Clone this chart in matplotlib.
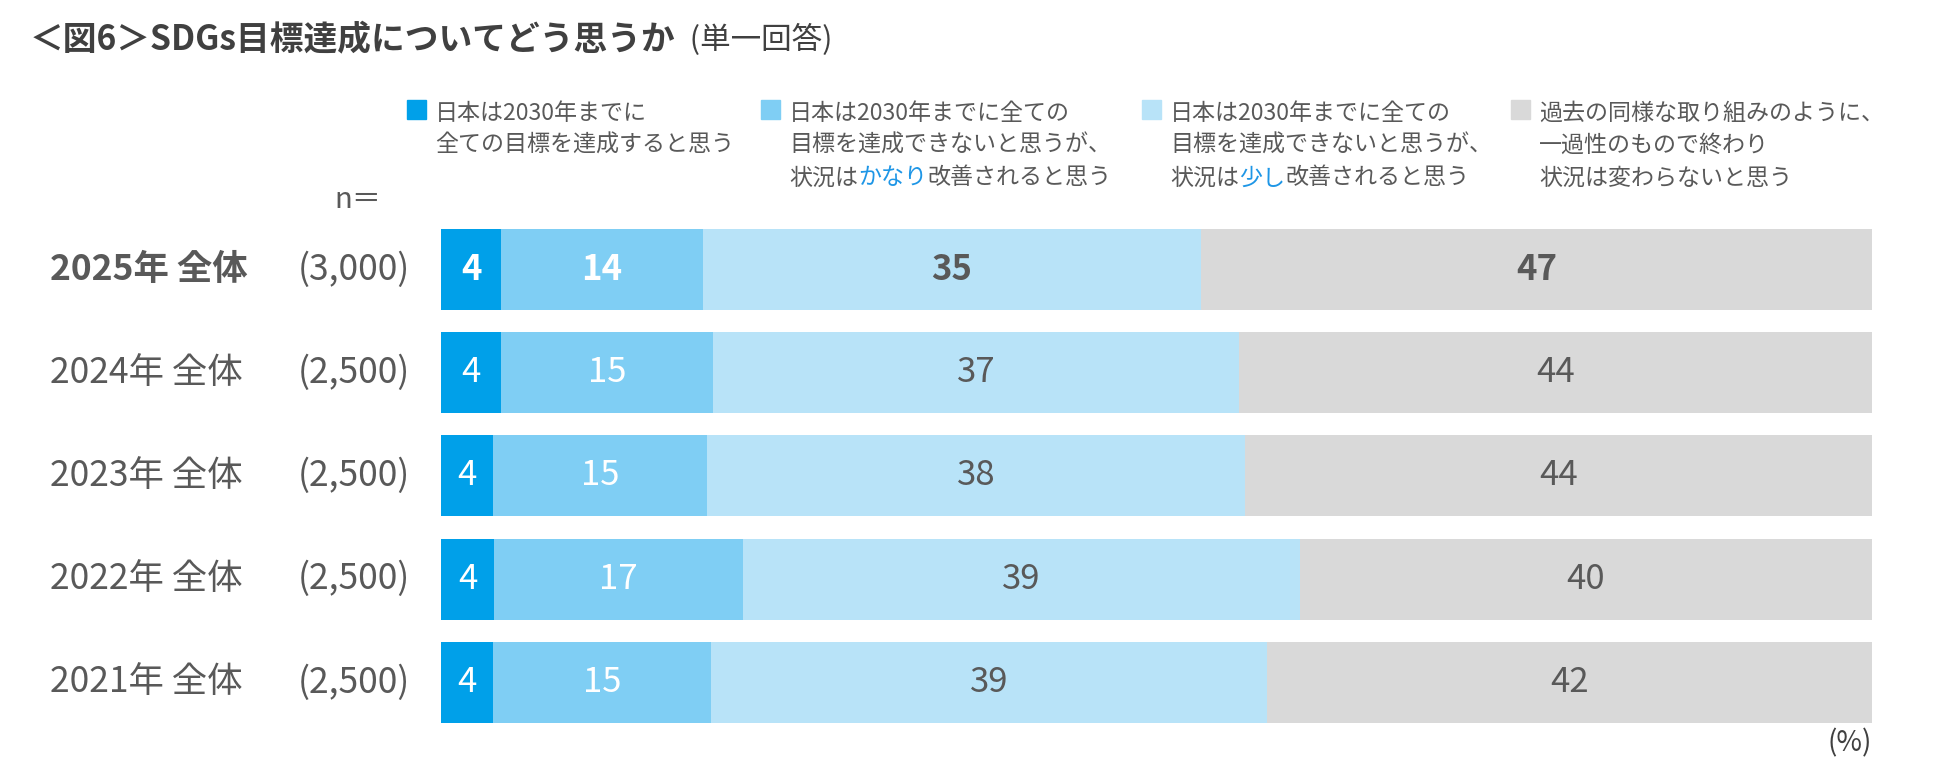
import matplotlib
matplotlib.use("Agg")
import matplotlib.pyplot as plt
import numpy as np

plt.rcParams['font.family'] = ['Noto Sans CJK JP', 'DejaVu Sans']

# data (top row first)
rows = ['2025年 全体', '2024年 全体', '2023年 全体', '2022年 全体', '2021年 全体']
n_labels = ['(3,000)', '(2,500)', '(2,500)', '(2,500)', '(2,500)']
achieve = [4.2, 4.2, 3.6, 3.7, 3.6]
big_improve = [14.1, 14.8, 15.0, 17.4, 15.3]
small_improve = [34.8, 36.8, 37.6, 38.9, 38.8]
no_change = [47.0, 44.2, 43.8, 40.0, 42.3]
value_labels = [
    [4, 14, 35, 47],
    [4, 15, 37, 44],
    [4, 15, 38, 44],
    [4, 17, 39, 40],
    [4, 15, 39, 42],
]

colors = ['#00A0E9', '#7FCEF4', '#B8E3F8', '#D9D9D9']
label_colors = ['white', 'white', '#595959', '#595959']
text_col = '#595959'
accent = '#1E96E6'

W, H = 1950, 773
fig = plt.figure(figsize=(W / 100, H / 100), dpi=100)


def fx(x):
    return x / W


def fy(y):
    return 1 - y / H


# bar area in pixels
bar_l, bar_r = 441, 1872
bar_top, step, bar_h = 229, 103.2, 81
bar_bot = bar_top + step * (len(rows) - 1) + bar_h
ax = fig.add_axes([fx(bar_l), fy(bar_bot), fx(bar_r) - fx(bar_l), fy(bar_top) - fy(bar_bot)])
series = [achieve, big_improve, small_improve, no_change]
ypos = np.arange(len(rows))
hfrac = bar_h / step
left = np.zeros(len(rows))
for k, vals in enumerate(series):
    vals = np.array(vals)
    ax.barh(ypos, vals, left=left, height=hfrac, color=colors[k], linewidth=0)
    for i in range(len(rows)):
        ax.text(left[i] + vals[i] / 2, ypos[i], str(value_labels[i][k]),
                ha='center', va='center', color=label_colors[k],
                fontsize=25, fontweight='bold' if i == 0 else 'normal')
    left += vals
ax.set_xlim(0, 100)
ax.set_ylim(len(rows) - 1 + hfrac / 2, -hfrac / 2)
ax.axis('off')

# row labels and n
for i, lab in enumerate(rows):
    yc = bar_top + bar_h / 2 + i * step
    fig.text(fx(50), fy(yc), lab, ha='left', va='center', fontsize=25.5,
             color=text_col, fontweight='bold' if i == 0 else 'normal')
    fig.text(fx(410), fy(yc), n_labels[i], ha='right', va='center',
             fontsize=25.5, color=text_col)
fig.text(fx(358), fy(200), 'n＝', ha='center', va='center', fontsize=21, color=text_col)

# title
t = fig.text(fx(30), fy(40), '＜図6＞SDGs目標達成についてどう思うか', ha='left', va='center',
             fontsize=24.3, fontweight='bold', color='#404040')
ax.annotate('  (単一回答)', xy=(1, 0.5), xycoords=t, va='center', ha='left',
            fontsize=22, color='#404040')

# legend (manual, to get the coloured words)
leg_x = [407, 761, 1142, 1511]
line_y = [113, 145, 178]
leg_lines = [
    [['日本は2030年までに'], ['全ての目標を達成すると思う']],
    [['日本は2030年までに全ての'], ['目標を達成できないと思うが、'], ['状況は', 'かなり', '改善されると思う']],
    [['日本は2030年までに全ての'], ['目標を達成できないと思うが、'], ['状況は', '少し', '改善されると思う']],
    [['過去の同様な取り組みのように、'], ['一過性のもので終わり'], ['状況は変わらないと思う']],
]
for k in range(4):
    fig.patches.append(plt.Rectangle((fx(leg_x[k]), fy(119)), fx(19), 19 / H,
                                     transform=fig.transFigure, color=colors[k]))
    for j, parts in enumerate(leg_lines[k]):
        prev = fig.text(fx(leg_x[k] + 28), fy(line_y[j]), parts[0], ha='left',
                        va='center', fontsize=16.6, color=text_col)
        for p, part in enumerate(parts[1:]):
            c = accent if p == 0 else text_col
            prev = ax.annotate(part, xy=(1, 0.5), xycoords=prev, ha='left',
                               va='center', fontsize=16.6, color=c)

fig.text(fx(1872), fy(743), '(%)', ha='right', va='center', fontsize=20, color='#404040')

fig.savefig('out.png', dpi=100)
